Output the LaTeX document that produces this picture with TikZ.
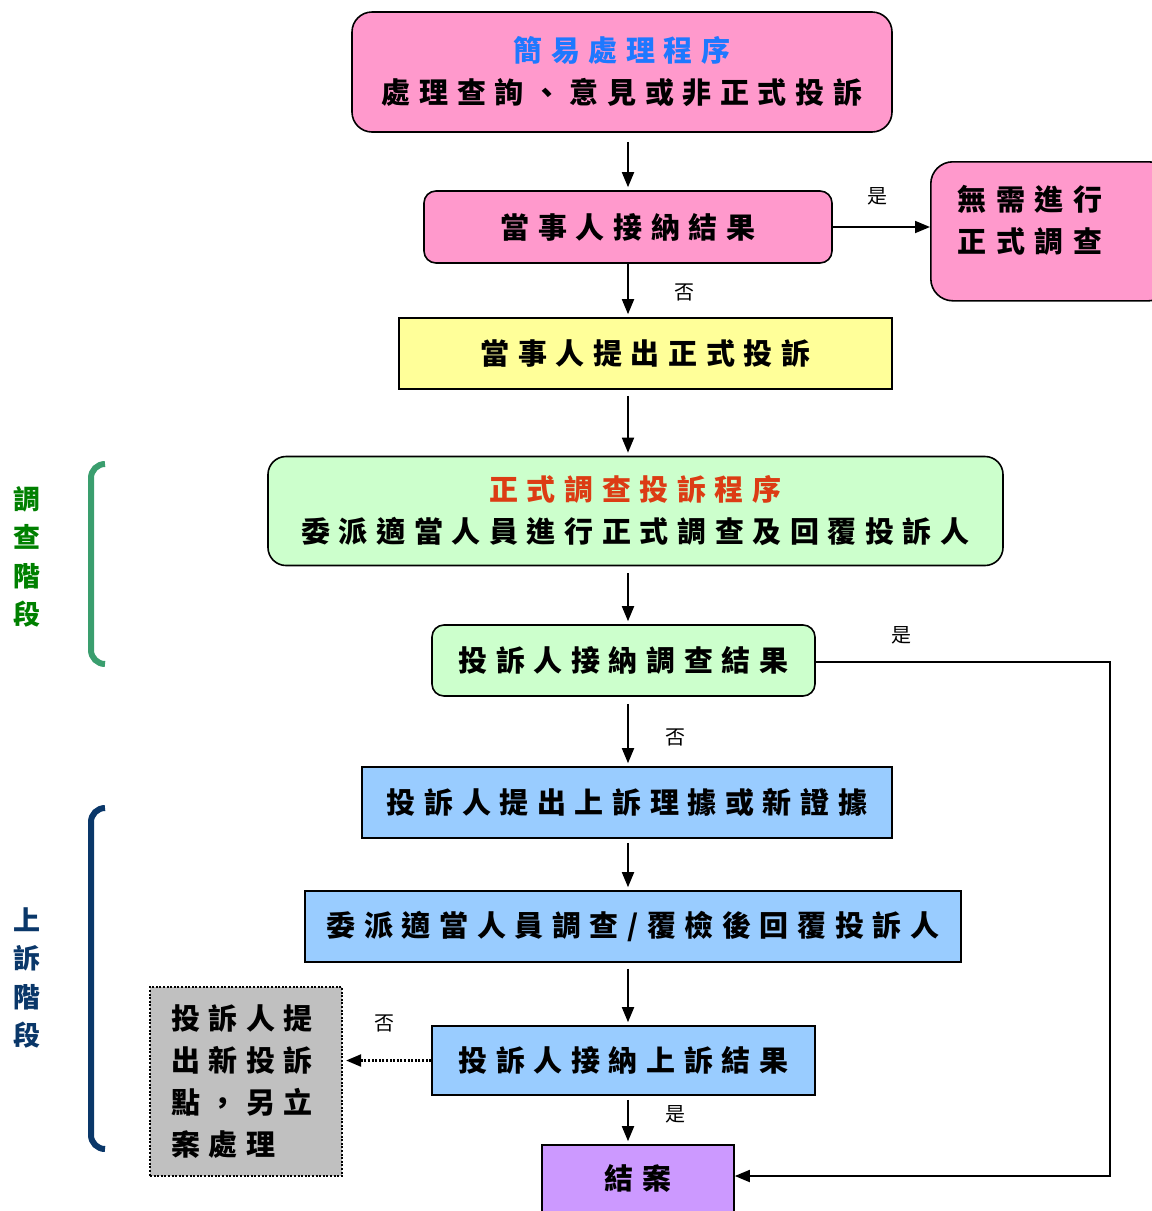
\documentclass[tikz,border=0pt]{standalone}
\usepackage{fontspec}
\setmainfont{Noto Sans CJK TC}
\usetikzlibrary{arrows.meta,calc}
\definecolor{pinkc}{HTML}{FF99CC}
\definecolor{yelc}{HTML}{FFFF99}
\definecolor{grnc}{HTML}{CCFFCC}
\definecolor{bluc}{HTML}{99CCFF}
\definecolor{purc}{HTML}{CC99FF}
\definecolor{gryc}{HTML}{C0C0C0}
\definecolor{titleblue}{RGB}{30,120,255}
\definecolor{titlered}{RGB}{220,60,20}
\definecolor{sidegreen}{RGB}{0,128,0}
\definecolor{brgreen}{RGB}{58,158,110}
\definecolor{navy}{RGB}{10,55,105}
\newdimen\spkern
\spkern=8.6pt
\def\sptext#1{\spcA#1\relax}
\def\spcA#1{#1\futurelet\spnext\spcB}
\def\spcB{\ifx\spnext\relax\expandafter\spcEnd\else\kern\spkern\expandafter\spcA\fi}
\def\spcEnd\relax{}
\tikzset{
  box/.style={draw=black, line width=1.6pt, inner sep=0pt, font=\bfseries\fontsize{29}{42}\selectfont, align=center},
  rbox/.style={box, rounded corners=#1},
  arr/.style={draw=black, line width=1.8pt, -{Triangle[length=15pt,width=12pt]}},
  dotline/.style={line width=2.2pt, dash pattern=on 2pt off 1.6pt},
  lbl/.style={font=\fontsize{20}{22}\selectfont, inner sep=0pt},
  side/.style={font=\bfseries\fontsize{27}{38.5}\selectfont, align=center, inner sep=0pt},
  bracket/.style={line width=6pt, rounded corners=14pt}
}
\begin{document}
\begin{tikzpicture}[x=1pt,y=-1pt]
\useasboundingbox (0,0) rectangle (1152,1211);
\clip (0,0) rectangle (1152,1211);
\coordinate (ax) at (628,0);
% boxes
\node[rbox=20pt, fill=pinkc, minimum width=540pt, minimum height=120pt] (n1) at (622,72)
  {\textcolor{titleblue}{\sptext{簡易處理程序}}\\\sptext{處理查詢、意見或非正式投訴}};
\node[rbox=12pt, fill=pinkc, minimum width=408pt, minimum height=72pt] (n2) at (628,227)
  {\sptext{當事人接納結果}};
\node[rbox=22pt, fill=pinkc, minimum width=240pt, minimum height=139pt, anchor=north west] (n3) at (930,161) {};
\node[box, draw=none, align=left, anchor=west] (n3t) at (957,220)
  {\spkern=9.5pt\sptext{無需進行}\\\spkern=9.5pt\sptext{正式調查}};
\node[box, fill=yelc, minimum width=493pt, minimum height=71pt] (n4) at (645.5,353.5)
  {\sptext{當事人提出正式投訴}};
\node[rbox=18pt, fill=grnc, minimum width=735pt, minimum height=109pt] (n5) at (635.5,511)
  {\textcolor{titlered}{\sptext{正式調查投訴程序}}\\\sptext{委派適當人員進行正式調查及回覆投訴人}};
\node[rbox=12pt, fill=grnc, minimum width=383pt, minimum height=71pt] (n6) at (623.5,660.5)
  {\sptext{投訴人接納調查結果}};
\node[box, fill=bluc, minimum width=530pt, minimum height=71pt] (n7) at (627,802.5)
  {\sptext{投訴人提出上訴理據或新證據}};
\node[box, fill=bluc, minimum width=656pt, minimum height=71pt] (n8) at (633,926.5)
  {\sptext{委派適當人員調查/覆檢後回覆投訴人}};
\node[box, fill=bluc, minimum width=383pt, minimum height=69pt] (n9) at (623.5,1060.5)
  {\sptext{投訴人接納上訴結果}};
\node[box, fill=purc, minimum width=192pt, minimum height=70pt] (n10) at (638,1180)
  {\raisebox{6pt}{\sptext{結案}}};
\node[box, fill=gryc, dotline, minimum width=192pt, minimum height=189pt, align=left, text width=150pt] (n11) at (246,1081.5)
  {\sptext{投訴人提}\\\sptext{出新投訴}\\\sptext{點，另立}\\\sptext{案處理}};
% vertical arrows
\draw[arr, shorten <=9pt, shorten >=3pt] (n1.south -| ax) -- (n2.north -| ax);
\draw[arr, shorten >=3pt] (n2.south -| ax) -- (n4.north -| ax);
\draw[arr, shorten <=6pt, shorten >=3pt] (n4.south -| ax) -- (n5.north -| ax);
\draw[arr, shorten <=7pt, shorten >=3pt] (n5.south -| ax) -- (n6.north -| ax);
\draw[arr, shorten <=7pt, shorten >=3pt] (n6.south -| ax) -- (n7.north -| ax);
\draw[arr, shorten <=4pt, shorten >=3pt] (n7.south -| ax) -- (n8.north -| ax);
\draw[arr, shorten <=6pt, shorten >=3pt] (n8.south -| ax) -- (n9.north -| ax);
\draw[arr, shorten <=4pt, shorten >=3pt] (n9.south -| ax) -- (n10.north -| ax);
% side arrows
\coordinate (c1) at (1110,662);
\draw[arr] (n2.east) -- (n2.east -| n3.west);
\draw[arr] (n6.east |- c1) -- (c1) |- ([yshift=4pt]n10.east);
\draw[arr, dotline] (n9.west) -- ([xshift=3pt]n9.west -| n11.east);
% labels
\node[lbl] (l1) at (877,196) {是};
\node[lbl] (l2) at (684,292) {否};
\node[lbl] (l3) at (901,635) {是};
\node[lbl] (l4) at (675,737) {否};
\node[lbl] (l5) at (384,1023) {否};
\node[lbl] (l6) at (675,1114) {是};
% brackets
\draw[bracket, brgreen] (105,464) -- (91,464) -- (91,664) -- (105,664);
\draw[bracket, navy] (105,808) -- (91,808) -- (91,1149) -- (105,1149);
\node[side, text=sidegreen] (s1) at (27,557) {調\\查\\階\\段};
\node[side, text=navy] (s2) at (27,978) {上\\訴\\階\\段};
\end{tikzpicture}
\end{document}
